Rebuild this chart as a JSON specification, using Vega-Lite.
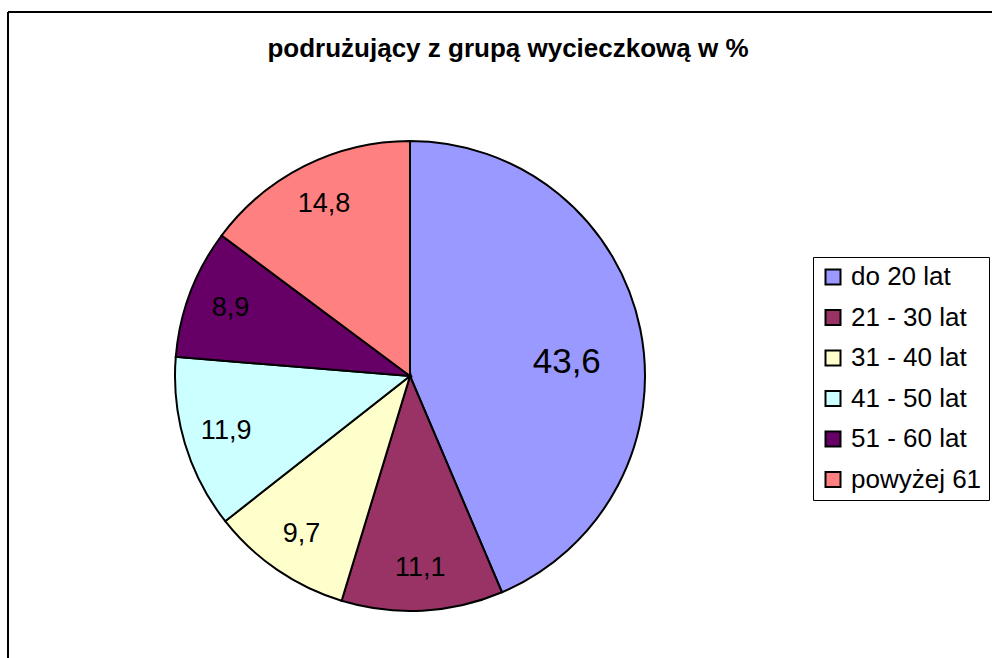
{
  "$schema": "https://vega.github.io/schema/vega-lite/v6.json",
  "width": 1000,
  "height": 700,
  "autosize": {"type": "none"},
  "padding": {"left": 8, "top": 12, "right": 0, "bottom": 0},
  "background": "white",
  "config": {
    "view": {"stroke": null},
    "font": "Liberation Sans"
  },
  "title": {
    "text": "podrużujący z grupą wycieczkową w %",
    "font": "Liberation Sans",
    "fontSize": 26,
    "fontWeight": "bold",
    "color": "black",
    "anchor": "middle",
    "frame": "group",
    "offset": 0,
    "baseline": "middle",
    "dy": 64
  },
  "data": {
    "values": [
      {"nr": 1, "group": "do 20 lat", "value": 43.6, "label": "43,6"},
      {"nr": 2, "group": "21 - 30 lat", "value": 11.1, "label": "11,1"},
      {"nr": 3, "group": "31 - 40 lat", "value": 9.7, "label": "9,7"},
      {"nr": 4, "group": "41 - 50 lat", "value": 11.9, "label": "11,9"},
      {"nr": 5, "group": "51 - 60 lat", "value": 8.9, "label": "8,9"},
      {"nr": 6, "group": "powyżej 61", "value": 14.8, "label": "14,8"}
    ]
  },
  "layer": [
    {
      "mark": {"type": "rule", "color": "black", "strokeWidth": 2},
      "encoding": {"x": {"value": 0}}
    },
    {
      "mark": {"type": "rule", "color": "black", "strokeWidth": 2},
      "encoding": {"y": {"value": 0}}
    },
    {
      "mark": {"type": "arc", "outerRadius": 235, "stroke": "black", "strokeWidth": 2, "x": 402, "y": 364},
      "encoding": {
        "theta": {"field": "value", "type": "quantitative", "stack": true},
        "order": {"field": "nr", "type": "quantitative"},
        "color": {
          "field": "group",
          "type": "nominal",
          "sort": null,
          "scale": {
            "domain": ["do 20 lat", "21 - 30 lat", "31 - 40 lat", "41 - 50 lat", "51 - 60 lat", "powyżej 61"],
            "range": ["#9999FF", "#993366", "#FFFFCC", "#CCFFFF", "#660066", "#FF8080"]
          },
          "legend": {
            "title": null,
            "orient": "none",
            "legendX": 805,
            "legendY": 245,
            "symbolType": "square",
            "symbolSize": 225,
            "symbolStrokeColor": "black",
            "symbolStrokeWidth": 2,
            "labelFontSize": 26,
            "labelColor": "black",
            "labelFont": "Liberation Sans",
            "labelOffset": 5,
            "labelLimit": 300,
            "strokeColor": "black",
            "padding": 7,
            "rowPadding": 14.5
          }
        }
      }
    },
    {
      "mark": {
        "type": "text",
        "x": 402,
        "y": 364,
        "font": "Liberation Sans",
        "color": "black",
        "radius": {"expr": "datum.value > 40 ? 160 : 192"},
        "dy": {"expr": "datum.value > 40 ? 18 : 0"}
      },
      "encoding": {
        "theta": {"field": "value", "type": "quantitative", "stack": true},
        "order": {"field": "nr", "type": "quantitative"},
        "text": {"field": "label", "type": "nominal"},
        "size": {"condition": {"test": "datum.value > 40", "value": 35}, "value": 27}
      }
    }
  ]
}
